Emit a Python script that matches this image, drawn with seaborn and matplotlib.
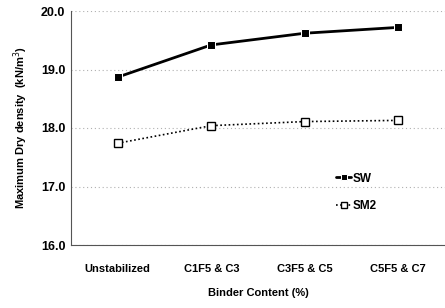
import matplotlib
matplotlib.use("Agg")
import matplotlib.pyplot as plt
import seaborn as sns
import pandas as pd

categories = ["Unstabilized", "C1F5 & C3", "C3F5 & C5", "C5F5 & C7"]
sw = [18.87, 19.42, 19.62, 19.72]
sm2 = [17.74, 18.04, 18.11, 18.13]
yticks = [16.0, 17.0, 18.0, 19.0, 20.0]

sns.set_theme(style="white")
plt.rcParams['font.family'] = ['Liberation Sans', 'DejaVu Sans']
plt.rcParams['text.color'] = 'black'
plt.rcParams['axes.labelcolor'] = 'black'
plt.rcParams['xtick.color'] = 'black'
plt.rcParams['ytick.color'] = 'black'

df = pd.DataFrame({
    "cat": categories * 2,
    "val": sw + sm2,
    "series": ["SW"] * 4 + ["SM2"] * 4,
})

fig = plt.figure(figsize=(4.45, 3.08), dpi=100)
ax = fig.add_axes([71/445, 1 - 245/308, (445-71)/445, (245-11)/308])

for y in yticks:
    ax.axhline(y, color="#b0b0b0", linestyle=(0, (1, 2.5)), linewidth=0.8, zorder=0)

sns.lineplot(data=df[df.series == "SW"], x="cat", y="val", ax=ax, color="black",
             marker="s", markersize=5.5, linewidth=2, label="SW", sort=False)
sns.lineplot(data=df[df.series == "SM2"], x="cat", y="val", ax=ax, color="black",
             marker="s", markersize=5.5, markerfacecolor="white", markeredgecolor="black",
             markeredgewidth=1, linewidth=1.2, linestyle=(0, (1, 1.5)), label="SM2", sort=False)

ax.set_xlim(-0.5, 3.5)
ax.set_ylim(16.0, 20.0)
ax.set_yticks(yticks)
ax.set_yticklabels([f"{v:.1f}" for v in yticks], fontsize=9, fontweight="bold")
ax.set_xticks(range(4))
ax.set_xticklabels(categories, fontsize=8, fontweight="bold")
ax.tick_params(axis="x", pad=14, length=0)
ax.tick_params(axis="y", length=0, pad=4)

for s in ["top", "right"]:
    ax.spines[s].set_visible(False)
for s in ["left", "bottom"]:
    ax.spines[s].set_color("#555555")
    ax.spines[s].set_linewidth(0.8)

ax.set_xlabel("Binder Content (%)", fontsize=8, fontweight="bold", labelpad=10)
ax.set_ylabel("Maximum Dry density  (kN/m$^3$)", fontsize=8, fontweight="bold", labelpad=8)

leg = ax.legend(loc="upper left", bbox_to_anchor=(0.68, 0.355), frameon=False,
                fontsize=8.5, handlelength=1.3, handletextpad=0.1, labelspacing=1.3,
                markerscale=0.85)
for t in leg.get_texts():
    t.set_fontweight("bold")

fig.savefig("out.png", dpi=100)
